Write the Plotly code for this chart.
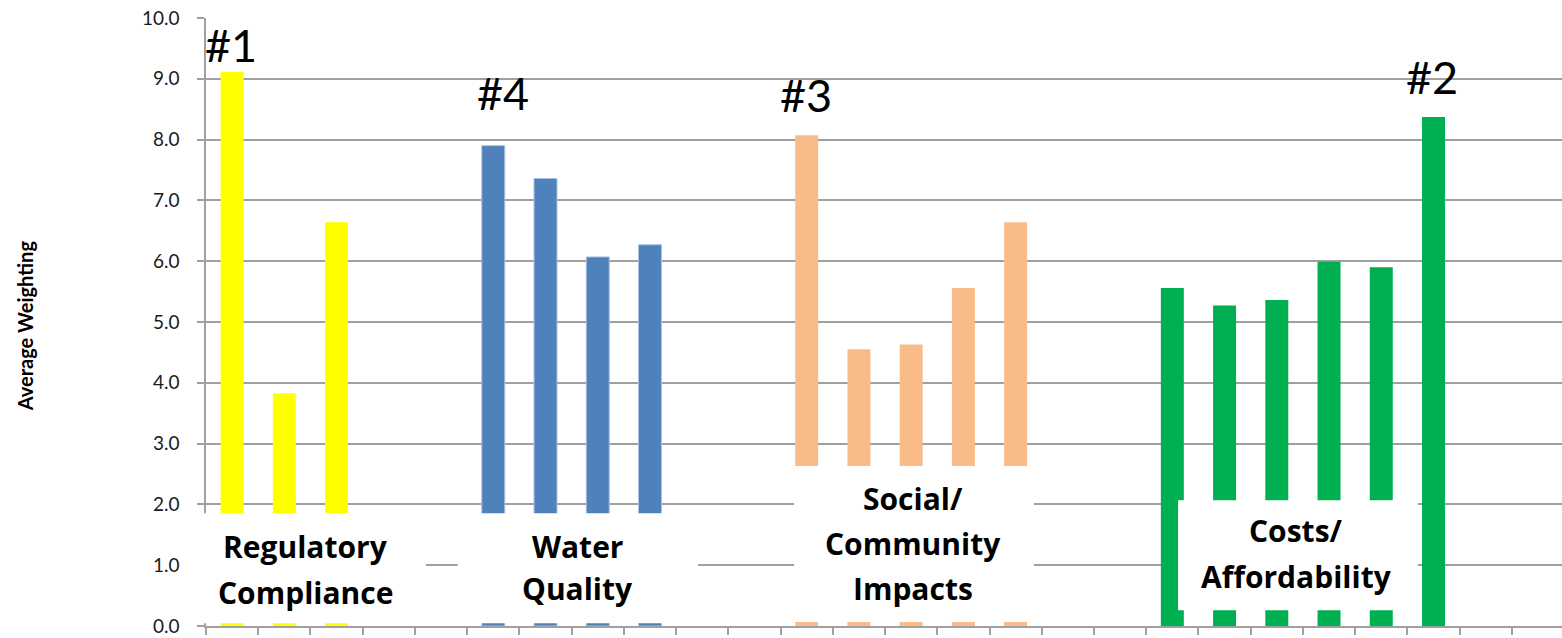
import plotly.graph_objects as go

# Average weighting per criterion, grouped by category
regulatory = [9.11, 3.83, 6.64]
water_quality = [7.90, 7.36, 6.07, 6.27]
social = [8.07, 4.55, 4.63, 5.56, 6.64]
costs = [5.56, 5.27, 5.36, 5.99, 5.90, 8.37]

group_names = [["Regulatory", "Compliance"],
               ["Water", "Quality"],
               ["Social/", "Community", "Impacts"],
               ["Costs/", "Affordability"]]
ranks = ["#1", "#4", "#3", "#2"]
y_ticks = [0, 1, 2, 3, 4, 5, 6, 7, 8, 9, 10]

# Layout: slot where each group starts on the category axis, and colours
N_SLOTS = 26
group_start = [0, 5, 11, 18]
colors = ["#FFFF00", "#4F81BD", "#F9BC88", "#00B050"]
X_RANGE = [-0.5, 25.46]
FONT = "Lato"
LABEL_FONT = "Open Sans"
GRID = "#A0A0A0"

series = [regulatory, water_quality, social, costs]

fig = go.Figure()
for vals, start, col in zip(series, group_start, colors):
    fig.add_trace(go.Bar(
        x=[start + i for i in range(len(vals))],
        y=vals,
        width=0.44,
        marker=dict(color=col,
                    line=dict(color="#A9C1E0" if col == "#4F81BD" else col,
                              width=1 if col == "#4F81BD" else 0)),
        showlegend=False,
    ))


def xdom(v):
    return (v - X_RANGE[0]) / (X_RANGE[1] - X_RANGE[0])


# White label boxes laid over the lower part of each group
boxes = [(-0.69, 3.71, 0.045, 1.855),
         (4.32, 8.92, 0.045, 1.855),
         (10.76, 15.35, 0.066, 2.63),
         (18.11, 22.70, 0.26, 2.07)]
shapes = []
for x0, x1, y0, y1 in boxes:
    shapes.append(dict(type="rect", xref="x domain", yref="y",
                       x0=xdom(x0), x1=xdom(x1), y0=y0, y1=y1,
                       fillcolor="white", line=dict(width=0), layer="above"))

annotations = []
# Group names, one annotation per line
name_pos = [(1.40, [1.30, 0.55]),
            (6.62, [1.31, 0.62]),
            (13.03, [2.10, 1.36, 0.62]),
            (20.37, [1.57, 0.82])]
for lines, (cx, ys) in zip(group_names, name_pos):
    for txt, yy in zip(lines, ys):
        annotations.append(dict(x=cx, y=yy, xref="x", yref="y", text=txt,
                                showarrow=False, xanchor="center", yanchor="middle",
                                font=dict(family=LABEL_FONT, size=30, color="black",
                                          weight="bold")))

# Rank labels above the leading bar of each group
rank_pos = [(-0.02, 9.56), (5.19, 8.77), (10.99, 8.74), (22.97, 9.03)]
for txt, (rx, ry) in zip(ranks, rank_pos):
    annotations.append(dict(x=rx, y=ry, xref="x", yref="y", text=txt,
                            showarrow=False, xanchor="center", yanchor="middle",
                            font=dict(family=FONT, size=45, color="black")))

# Vertical axis title
annotations.append(dict(x=(25 - 206) / 1356, y=0.493, xref="paper", yref="paper",
                        text="Average Weighting", textangle=-90, showarrow=False,
                        xanchor="center", yanchor="middle",
                        font=dict(family=FONT, size=20, color="black", weight="bold")))

fig.update_layout(
    width=1562, height=638,
    margin=dict(l=206, r=0, t=18, b=12),
    plot_bgcolor="white", paper_bgcolor="white",
    bargap=0.56,
    shapes=shapes,
    annotations=annotations,
    font=dict(family=FONT),
)
fig.update_xaxes(
    range=X_RANGE,
    showgrid=False, zeroline=False,
    showline=True, linecolor=GRID, linewidth=1.5,
    tickmode="array", tickvals=[i - 0.5 for i in range(N_SLOTS)],
    ticks="outside", ticklen=7, tickcolor=GRID, tickwidth=1.5,
    showticklabels=False,
)
fig.update_yaxes(
    range=[0, 10],
    tickmode="array", tickvals=y_ticks,
    tickformat=".1f",
    showgrid=True, gridcolor=GRID, gridwidth=1.5,
    zeroline=False,
    showline=True, linecolor=GRID, linewidth=1.5,
    ticks="outside", ticklen=7, tickcolor=GRID, tickwidth=1.5,
    ticklabelstandoff=14,
    tickfont=dict(family=FONT, size=19, color="#1A1A1A"),
)

fig.write_html("out.html")
